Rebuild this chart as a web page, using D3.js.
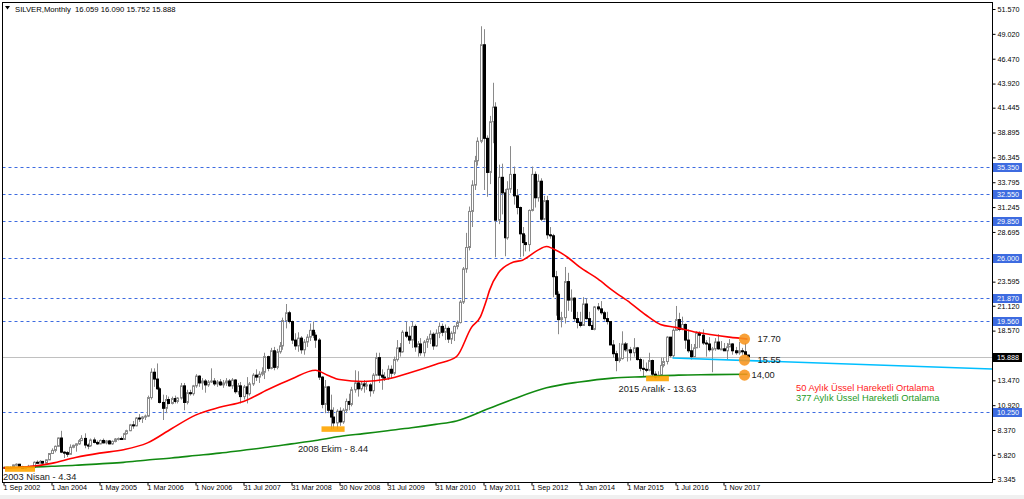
<!DOCTYPE html>
<html><head><meta charset="utf-8">
<script src="https://cdn.jsdelivr.net/npm/d3@7"></script>
<style>body{margin:0;background:#fff;overflow:hidden}</style>
</head><body>
<svg id="c" width="1024" height="499"></svg>
<script>
// ---- data (monthly SILVER bars) ----
const opens = [
4.55,4.55,4.43,4.55,4.79,4.86,4.62,4.42,4.55,4.65,
4.52,5.06,4.98,5.15,4.98,5.31,5.96,6.28,6.70,7.55,
6.10,6.05,5.88,6.60,6.80,6.95,7.28,7.51,6.83,6.75,
7.35,7.10,6.95,7.30,7.05,7.25,6.95,7.20,7.45,7.50,
7.40,8.00,8.30,8.90,8.80,9.60,9.55,9.70,9.80,11.70,
14.30,13.60,12.60,11.20,10.60,11.50,11.10,11.60,11.30,11.65,
12.90,11.20,12.20,12.10,12.90,13.90,13.20,13.40,13.00,13.30,
13.40,13.10,13.30,13.00,13.20,13.40,12.90,13.50,12.30,12.90,
11.80,12.80,12.10,13.10,14.00,13.80,14.10,14.30,15.90,14.70,
16.50,14.80,16.40,17.00,19.60,20.40,19.50,17.60,17.00,17.80,
16.60,17.40,17.90,18.60,18.10,17.60,13.80,11.00,12.80,10.40,
9.70,9.10,10.30,9.20,10.40,11.30,11.00,12.50,13.20,12.60,
13.10,12.90,13.00,12.40,14.00,15.80,14.00,13.80,13.70,14.60,
14.20,15.60,16.80,16.40,18.40,18.00,17.60,19.00,16.90,17.20,
16.30,17.40,17.70,18.20,17.00,18.30,19.00,18.40,18.80,17.70,
18.30,19.00,19.40,21.50,24.90,27.10,30.80,33.50,36.00,38.00,
47.90,38.30,34.80,40.00,41.50,29.90,34.30,32.70,28.10,33.10,
34.60,32.40,31.20,28.50,27.60,27.40,30.90,34.60,32.20,33.90,
30.00,31.90,28.40,28.30,24.10,22.30,19.70,19.90,23.60,21.70,
21.90,19.80,19.40,19.10,21.30,19.80,19.10,18.70,21.00,20.80,
20.40,19.80,19.50,17.10,16.20,15.50,15.70,17.20,16.60,16.60,
16.30,16.80,15.60,14.70,14.60,14.50,15.50,14.10,13.80,14.00,
15.00,15.40,17.90,16.00,18.60,19.70,18.70,19.20,17.60,16.50,
15.90,16.80,18.30,18.10,17.30,17.20,16.60,16.70,17.40,16.70,
16.70,16.50,16.90,17.20,16.50,16.30,16.50,16.40,16.059];
const highs = [
4.63,4.58,4.64,4.82,4.95,4.90,4.70,4.68,4.80,4.68,
5.15,5.25,5.28,5.20,5.35,5.98,6.49,6.78,7.61,8.29,
6.20,6.20,6.90,6.87,7.00,7.45,7.84,8.03,7.00,7.50,
7.60,7.30,7.40,7.50,7.35,7.35,7.30,7.55,7.60,7.70,
8.10,8.40,9.00,9.30,9.70,10.00,9.80,9.95,11.90,14.70,
14.70,15.20,12.80,12.00,11.95,11.80,11.80,11.90,11.75,13.20,
13.20,12.50,12.50,13.00,14.10,14.00,13.70,13.60,13.50,14.70,
13.70,13.50,13.60,13.50,13.70,13.60,13.70,13.60,13.20,13.30,
13.00,13.80,13.30,14.20,14.60,14.40,14.80,16.30,16.00,16.80,
16.90,16.70,17.40,19.90,21.30,20.60,19.60,18.30,18.40,18.00,
17.70,18.20,19.30,19.50,18.40,17.80,13.90,13.50,12.90,12.00,
10.70,10.50,10.70,10.60,11.60,12.10,12.80,14.50,14.40,13.40,
13.50,13.40,13.20,14.20,16.30,16.30,14.60,14.30,15.00,15.00,
15.90,17.60,17.30,18.60,19.50,19.00,19.50,19.20,17.50,17.80,
17.60,18.00,18.60,18.40,18.70,19.40,19.30,19.20,19.00,18.50,
19.10,19.60,21.70,25.10,28.60,31.30,34.00,36.50,38.40,49.80,
49.50,38.60,40.60,44.00,42.00,35.60,35.70,33.10,33.90,37.50,
35.40,33.10,31.30,29.20,28.40,31.00,35.40,34.90,34.60,34.20,
32.40,32.40,29.20,28.50,24.70,22.60,20.50,25.10,24.50,22.80,
22.00,20.50,20.50,22.00,21.90,20.50,19.60,21.10,21.40,21.60,
20.60,20.50,19.50,17.60,16.50,17.30,18.50,17.40,17.30,16.90,
17.80,16.90,15.80,15.60,15.30,16.30,15.60,14.40,14.40,15.80,
15.80,18.00,17.90,18.80,21.10,20.40,20.00,19.30,18.70,17.20,
17.20,18.50,18.50,18.70,17.60,17.90,16.90,17.80,18.20,17.50,
17.30,17.30,17.70,17.30,16.90,17.40,16.80,17.30,16.090];
const lows = [
4.50,4.40,4.38,4.50,4.71,4.55,4.37,4.34,4.50,4.48,
4.50,4.95,4.95,4.85,4.95,5.28,5.95,6.08,6.62,6.00,
5.50,5.60,5.88,6.50,6.15,6.85,7.25,6.50,6.40,6.65,
7.00,6.85,6.90,7.00,6.90,6.90,6.85,7.10,7.30,7.35,
7.35,7.90,8.25,8.50,8.75,9.20,9.10,9.40,9.70,11.50,
12.80,12.50,11.10,9.40,10.10,11.00,11.00,11.10,11.10,11.50,
10.40,11.00,11.90,11.90,12.70,12.80,12.50,12.20,12.80,13.20,
12.90,12.80,12.90,12.70,12.90,12.80,12.60,12.10,12.00,11.10,
11.50,11.10,11.90,12.90,13.40,13.20,13.90,13.60,14.40,14.60,
14.50,14.60,16.20,16.60,18.80,19.30,17.20,16.60,16.40,16.20,
16.10,16.90,17.50,17.80,16.80,13.50,10.60,10.10,10.10,8.44,
8.50,8.45,8.80,9.00,10.10,10.40,10.80,12.20,11.80,12.40,
12.20,12.50,11.80,12.10,13.90,13.20,12.50,13.40,13.50,13.70,
14.00,15.40,15.90,16.30,17.80,17.20,16.80,16.40,15.90,16.00,
15.90,16.80,17.20,16.60,16.90,17.80,18.00,17.60,17.30,17.20,
17.50,18.70,19.30,21.30,24.50,26.80,29.20,33.00,35.50,37.80,
33.00,32.30,33.60,37.80,26.10,29.50,30.50,26.20,27.90,32.70,
31.50,30.50,26.10,26.20,26.70,26.70,30.80,31.20,31.80,29.80,
29.90,28.00,28.00,22.00,20.10,18.20,18.90,19.30,20.60,20.50,
19.50,18.80,18.90,19.10,19.70,19.00,18.70,18.60,20.60,20.20,
19.60,19.20,17.10,15.80,14.40,15.30,15.60,16.40,15.40,15.50,
15.90,15.50,14.40,13.90,14.30,14.40,13.90,13.63,13.70,13.90,
14.80,15.10,15.80,15.80,18.60,18.50,18.60,16.70,16.30,15.60,
15.90,16.80,16.80,17.10,15.90,16.40,14.30,16.50,16.60,16.60,
16.60,15.60,16.90,16.10,16.10,16.10,16.10,16.00,15.752];
const closes = [
4.55,4.43,4.55,4.79,4.86,4.62,4.42,4.55,4.65,4.52,
5.06,4.98,5.15,4.98,5.31,5.96,6.28,6.70,7.55,6.10,
6.05,5.88,6.60,6.80,6.95,7.28,7.51,6.83,6.75,7.35,
7.10,6.95,7.30,7.05,7.25,6.95,7.20,7.45,7.50,7.40,
8.00,8.30,8.90,8.80,9.60,9.55,9.70,9.80,11.70,14.30,
13.60,12.60,11.20,10.60,11.50,11.10,11.60,11.30,11.65,12.90,
11.20,12.20,12.10,12.90,13.90,13.20,13.40,13.00,13.30,13.40,
13.10,13.30,13.00,13.20,13.40,12.90,13.50,12.30,12.90,11.80,
12.80,12.10,13.10,14.00,13.80,14.10,14.30,15.90,14.70,16.50,
14.80,16.40,17.00,19.60,20.40,19.50,17.60,17.00,17.80,16.60,
17.40,17.90,18.60,18.10,17.60,13.80,11.00,12.80,10.40,9.70,
9.10,10.30,9.20,10.40,11.30,11.00,12.50,13.20,12.60,13.10,
12.90,13.00,12.40,14.00,15.80,14.00,13.80,13.70,14.60,14.20,
15.60,16.80,16.40,18.40,18.00,17.60,19.00,16.90,17.20,16.30,
17.40,17.70,18.20,17.00,18.30,19.00,18.40,18.80,17.70,18.30,
19.00,19.40,21.50,24.90,27.10,30.80,33.50,36.00,38.00,47.90,
38.30,34.80,40.00,41.50,29.90,34.30,32.70,28.10,33.10,34.60,
32.40,31.20,28.50,27.60,27.40,30.90,34.60,32.20,33.90,30.00,
31.90,28.40,28.30,24.10,22.30,19.70,19.90,23.60,21.70,21.90,
19.80,19.40,19.10,21.30,19.80,19.10,18.70,21.00,20.80,20.40,
19.80,19.50,17.10,16.20,15.50,15.70,17.20,16.60,16.60,16.30,
16.80,15.60,14.70,14.60,14.50,15.50,14.10,13.80,14.00,15.00,
15.40,17.90,16.00,18.60,19.70,18.70,19.20,17.60,16.50,15.90,
16.80,18.30,18.10,17.30,17.20,16.60,16.70,17.40,16.70,16.70,
16.50,16.90,17.20,16.50,16.30,16.50,16.40,16.10,15.888];

// moving averages (bar index -> value)
const ema50Bars = [0,8,16,24,32,40,48,56,64,72,80,88,96,104,108,112,120,128,136,144,151,156,159,161,162,165,170,173,178,181,183,188,192,198,203,209,214,219,224,231,242,248];
const ema50Vals = [4.47,4.6,4.95,5.55,6.0,6.35,7.05,8.5,9.9,10.7,11.3,12.5,13.6,14.5,14.0,13.55,13.35,13.6,14.3,15.1,15.9,18.9,20.0,21.7,22.7,24.5,25.6,25.8,26.8,27.2,27.0,26.1,25.1,23.9,22.7,21.4,20.2,19.2,18.9,18.4,17.9,17.7];
const ema377Bars = [0,8,16,24,32,40,48,56,64,72,80,88,96,104,112,120,128,136,144,151,162,170,181,192,203,214,225,236,248];
const ema377Vals = [4.47,4.55,4.65,4.75,4.9,5.05,5.3,5.5,5.75,6.0,6.3,6.6,6.95,7.3,7.7,8.0,8.3,8.6,8.95,9.3,10.6,11.55,12.7,13.3,13.7,13.85,14.0,14.05,14.1];

// horizontal levels and trend line
const levels = [35.35, 32.55, 29.85, 26.0, 21.87, 19.56, 10.25];
const bidPrice = 15.888;
const trendBars = [223, 330];
const trendVals = [15.76, 14.63];

// axis ticks
const yTicks = [51.570,49.020,46.470,43.920,41.445,38.895,36.345,33.795,31.245,28.695,23.595,21.120,18.570,13.470,10.920,8.370,5.820,3.345];
const xTickBars = [0,16,32,48,64,80,96,112,128,144,160,176,192,208,224,240];
const xTickLabels = ["1 Sep 2002","1 Jan 2004","1 May 2005","1 Mar 2006","1 Nov 2006","31 Jul 2007","31 Mar 2008","30 Nov 2008","31 Jul 2009","31 Mar 2010","1 May 2011","1 Sep 2012","1 Jan 2014","1 Mar 2015","1 Jul 2016","1 Nov 2017"];

// annotations
const lowMarks = [{bar0:0.5,bar1:10.5,price:4.34,label:"2003 Nisan - 4.34"},
                  {bar0:106,bar1:113.7,price:8.44,label:"2008 Ekim - 8.44"},
                  {bar0:214.2,bar1:221.8,price:13.63,label:"2015 Aralık - 13.63"}];
const circleBar = 247;
const circleVals = [17.70, 15.55, 14.00];
const circleLabels = ["17.70","15.55","14,00"];
const legendLabels = ["50 Aylık Üssel Hareketli Ortalama","377 Aylık Üssel Hareketli Ortalama"];
const title = "SILVER,Monthly  16.059 16.090 15.752 15.888";

// ---- drawing ----
const svg = d3.select('#c');
const FONT = "'Liberation Sans', Arial, sans-serif";
const P = {l:2.5, t:2.5, r:992.5, b:482.5};
const x = d3.scaleLinear().domain([0, 330]).range([3.5, 993.5]);
const y = d3.scaleLinear().domain([3.345, 51.57]).range([479, 9]);

svg.append('rect').attr('width',1024).attr('height',499).attr('fill','#fff');
svg.append('rect').attr('x',0).attr('y',495).attr('width',1024).attr('height',4).attr('fill','#f0f0f0');

svg.append('defs').append('clipPath').attr('id','clip')
  .append('rect').attr('x',P.l+0.5).attr('y',P.t+0.5).attr('width',P.r-P.l-1).attr('height',P.b-P.t-1);
const g = svg.append('g').attr('clip-path','url(#clip)');

// level lines
g.selectAll('line.lvl').data(levels).enter().append('line')
  .attr('x1',P.l).attr('x2',P.r)
  .attr('y1',d=>Math.round(y(d))+0.5).attr('y2',d=>Math.round(y(d))+0.5)
  .attr('stroke','#3d6be0').attr('stroke-width',1).attr('stroke-dasharray','3,3');
g.append('line').attr('x1',P.l).attr('x2',P.r)
  .attr('y1',Math.round(y(bidPrice))+0.5).attr('y2',Math.round(y(bidPrice))+0.5)
  .attr('stroke','#c0c0c0').attr('stroke-width',1);

// candles
const idx = d3.range(closes.length);
const cg = g.append('g');
cg.selectAll('line.wick').data(idx).enter().append('line')
  .attr('x1',i=>Math.round(x(i))+0.5).attr('x2',i=>Math.round(x(i))+0.5)
  .attr('y1',i=>y(highs[i])).attr('y2',i=>y(lows[i]))
  .attr('stroke','#8a8a8a').attr('stroke-width',1);
cg.selectAll('rect.body').data(idx).enter().append('rect')
  .attr('x',i=>Math.round(x(i))-0.5)
  .attr('width',2)
  .attr('y',i=>y(Math.max(opens[i],closes[i])))
  .attr('height',i=>Math.max(1,Math.abs(y(opens[i])-y(closes[i]))))
  .attr('fill',i=>closes[i]>=opens[i]?'#ffffff':'#000000')
  .attr('stroke',i=>closes[i]>=opens[i]?'#8a8a8a':'#000000')
  .attr('stroke-width',1);

// moving averages
const line = d3.line().x(d=>x(d[0])).y(d=>y(d[1])).curve(d3.curveMonotoneX);
g.append('path').attr('d',line(ema377Bars.map((b,i)=>[b,ema377Vals[i]])))
  .attr('fill','none').attr('stroke','#118a11').attr('stroke-width',1.6);
g.append('path').attr('d',line(ema50Bars.map((b,i)=>[b,ema50Vals[i]])))
  .attr('fill','none').attr('stroke','#ff0000').attr('stroke-width',1.6);

// trend line
g.append('line').attr('x1',x(trendBars[0])).attr('y1',y(trendVals[0]))
  .attr('x2',x(trendBars[1])).attr('y2',y(trendVals[1]))
  .attr('stroke','#00bfff').attr('stroke-width',1.6);

// low highlights
g.selectAll('rect.low').data(lowMarks).enter().append('rect')
  .attr('x',d=>x(d.bar0)).attr('width',d=>x(d.bar1)-x(d.bar0))
  .attr('y',d=>y(d.price)-3).attr('height',5.5)
  .attr('fill','#ffa500').attr('opacity',0.9);

// circles
g.selectAll('circle.m').data(circleVals).enter().append('circle')
  .attr('cx',x(circleBar)).attr('cy',d=>y(d)).attr('r',5.6)
  .attr('fill','#f7941d').attr('opacity',0.88);

// annotation texts
const ann = svg.append('g').attr('font-family',FONT).attr('font-size','9.3px').attr('fill','#1a1a1a');
ann.selectAll('text.c').data(circleVals).enter().append('text')
  .attr('x',(d,i)=>i===2?x(circleBar)+7:x(circleBar)+13).attr('y',d=>y(d)+3.3)
  .text((d,i)=>circleLabels[i]);
ann.append('text').attr('x',3).attr('y',479.5).text(lowMarks[0].label);
ann.append('text').attr('x',(x(lowMarks[1].bar0)+x(lowMarks[1].bar1))/2).attr('y',451.5)
  .attr('text-anchor','middle').text(lowMarks[1].label);
ann.append('text').attr('x',(x(lowMarks[2].bar0)+x(lowMarks[2].bar1))/2).attr('y',392)
  .attr('text-anchor','middle').text(lowMarks[2].label);
ann.append('text').attr('x',796).attr('y',390.5).attr('fill','#ff1a1a').text(legendLabels[0]);
ann.append('text').attr('x',796).attr('y',401).attr('fill','#1e9a1e').text(legendLabels[1]);

// frame
svg.append('rect').attr('x',P.l).attr('y',P.t).attr('width',P.r-P.l).attr('height',P.b-P.t)
  .attr('fill','none').attr('stroke','#000').attr('stroke-width',1);

// y axis
const ya = svg.append('g').attr('transform',`translate(${P.r},0)`)
  .call(d3.axisRight(y).tickValues(yTicks).tickSize(3).tickPadding(2).tickFormat(d3.format('.3f')));
ya.select('.domain').remove();
ya.selectAll('text').attr('font-family',FONT).attr('font-size','7.2px').attr('fill','#000');
ya.selectAll('line').attr('stroke','#000');

// level labels
const lv = svg.append('g');
lv.selectAll('rect').data(levels).enter().append('rect')
  .attr('x',P.r+0.5).attr('width',29).attr('y',d=>Math.round(y(d))-4).attr('height',9)
  .attr('fill','#3d6be0');
lv.selectAll('text').data(levels).enter().append('text')
  .attr('x',P.r+4.5).attr('y',d=>Math.round(y(d))+3)
  .attr('font-family',FONT).attr('font-size','7.2px').attr('fill','#fff')
  .text(d=>d3.format('.3f')(d));
lv.append('rect').attr('x',P.r+0.5).attr('width',29).attr('y',Math.round(y(bidPrice))-4).attr('height',9).attr('fill','#000');
lv.append('text').attr('x',P.r+4.5).attr('y',Math.round(y(bidPrice))+3)
  .attr('font-family',FONT).attr('font-size','7.2px').attr('fill','#fff').text(d3.format('.3f')(bidPrice));

// x axis
const xa = svg.append('g').attr('transform',`translate(0,${P.b})`)
  .call(d3.axisBottom(x).tickValues(xTickBars).tickSize(3).tickPadding(-1).tickFormat((d,i)=>xTickLabels[i]));
xa.select('.domain').remove();
xa.selectAll('text').attr('text-anchor','start').attr('x',-0.5)
  .attr('font-family',FONT).attr('font-size','7.2px').attr('fill','#000');
xa.selectAll('line').attr('stroke','#000');

// title
svg.append('path').attr('d','M5,6 L10,6 L7.5,9.5 Z').attr('fill','#000');
svg.append('text').attr('x',15).attr('y',11.5).attr('font-family',FONT).attr('font-size','7.7px')
  .attr('fill','#000').attr('xml:space','preserve').style('white-space','pre').text(title);
</script>
</body></html>
